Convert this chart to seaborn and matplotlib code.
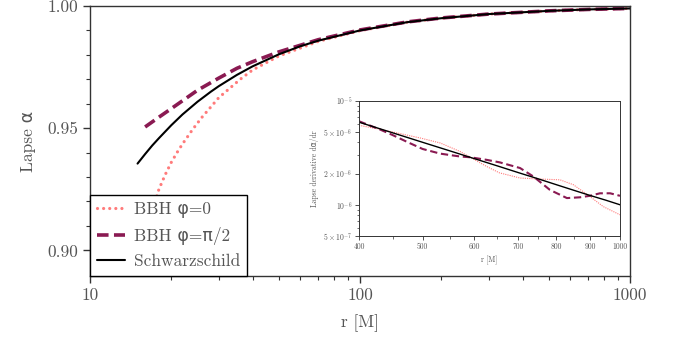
import numpy as np
import pandas as pd
import matplotlib
matplotlib.use("Agg")
import matplotlib.pyplot as plt
import seaborn as sns
from matplotlib.ticker import FixedLocator, NullFormatter, LogLocator

# ---------------- data ----------------
# main panel: lapse alpha vs r
r_schw = [15, 16, 17, 18, 20, 22, 25, 28, 30, 35, 40, 50, 60, 70, 100, 150,
          200, 300, 500, 700, 1000]
a_schw = [0.9355, 0.9394, 0.9429, 0.9459, 0.9512, 0.9556, 0.9608, 0.9649,
          0.9672, 0.9718, 0.9753, 0.9802, 0.9835, 0.9858, 0.9900, 0.9934,
          0.9950, 0.9967, 0.9980, 0.9986, 0.9990]

r_phi0 = [15.5, 16, 17, 18, 19, 20, 21, 22, 24, 26, 30, 36, 40, 50, 70, 100,
          150, 200, 300, 500, 700, 1000]
a_phi0 = [0.893, 0.903, 0.916, 0.925, 0.931, 0.936, 0.940, 0.9435, 0.9495,
          0.9545, 0.9625, 0.9700, 0.9738, 0.9795, 0.9855, 0.9899, 0.9934,
          0.9950, 0.9967, 0.9980, 0.9986, 0.9990]

r_phi90 = [16, 18, 20, 25, 30, 35, 40, 50, 70, 100, 150, 200, 300, 500, 700, 1000]
a_phi90 = [0.9505, 0.9545, 0.9580, 0.9655, 0.9705, 0.9745, 0.9772, 0.9812,
           0.9862, 0.9902, 0.9935, 0.9951, 0.9967, 0.9980, 0.9986, 0.9990]

# inset: d alpha / dr vs r
ri_schw = [400, 450, 500, 550, 600, 650, 700, 750, 800, 850, 900, 950, 1000]
d_schw = [6.25e-6, 4.94e-6, 4.00e-6, 3.31e-6, 2.78e-6, 2.37e-6, 2.04e-6,
          1.78e-6, 1.56e-6, 1.38e-6, 1.23e-6, 1.11e-6, 1.00e-6]

ri_phi0 = [400, 430, 462, 496, 532, 570, 591, 626, 655, 704, 755, 810, 849,
           900, 943, 1000]
d_phi0 = [5.83e-6, 5.35e-6, 4.85e-6, 4.40e-6, 3.94e-6, 3.27e-6, 2.87e-6,
          2.34e-6, 2.03e-6, 1.81e-6, 1.77e-6, 1.74e-6, 1.56e-6, 1.20e-6,
          0.96e-6, 0.80e-6]

ri_phi90 = [400, 431, 450, 475, 500, 532, 570, 591, 626, 656, 704, 738, 782,
            830, 869, 900, 932, 966, 1000]
d_phi90 = [6.38e-6, 5.30e-6, 4.70e-6, 4.00e-6, 3.45e-6, 3.11e-6, 2.92e-6,
           2.87e-6, 2.71e-6, 2.56e-6, 2.26e-6, 1.87e-6, 1.39e-6, 1.16e-6,
           1.18e-6, 1.22e-6, 1.29e-6, 1.29e-6, 1.22e-6]

labels = ["BBH φ=0", "BBH φ=π/2", "Schwarzschild"]
main_xticks = [10, 100, 1000]
main_xticklabels = ["10", "100", "1000"]
main_yticks = [0.90, 0.95, 1.00]
main_yticklabels = ["0.90", "0.95", "1.00"]
inset_xticks = [400, 500, 600, 700, 800, 900, 1000]
inset_xticklabels = ["400", "500", "600", "700", "800", "900", "1000"]
inset_yticks = [5e-7, 1e-6, 2e-6, 5e-6, 1e-5]
inset_yticklabels = [r"$5\times10^{-7}$", r"$10^{-6}$", r"$2\times10^{-6}$",
                     r"$5\times10^{-6}$", r"$10^{-5}$"]

# ---------------- style ----------------
sns.set_theme(style="white")
FAM = ["cmr10", "DejaVu Sans"]
plt.rcParams["font.family"] = FAM
plt.rcParams["mathtext.fontset"] = "cm"
plt.rcParams["axes.unicode_minus"] = False
plt.rcParams["axes.formatter.use_mathtext"] = True
TXT = "#555555"
SP = "#333333"
PINK = "#ff7b7b"
PURP = "#8a1a52"

fig = plt.figure(figsize=(6.77, 3.41), dpi=100)
ax = fig.add_axes([90 / 677, 1 - 276 / 341, 540 / 677, 270 / 341])

df0 = pd.DataFrame({"r": r_phi0, "a": a_phi0})
df90 = pd.DataFrame({"r": r_phi90, "a": a_phi90})
dfs = pd.DataFrame({"r": r_schw, "a": a_schw})

sns.lineplot(data=df0, x="r", y="a", ax=ax, color=PINK, lw=2.3,
             linestyle=(0, (0.01, 1.9)), label=labels[0], sort=True,
             dash_capstyle="round")
sns.lineplot(data=df90, x="r", y="a", ax=ax, color=PURP, lw=2.6,
             linestyle=(0, (3.2, 1.5)), label=labels[1], sort=True)
sns.lineplot(data=dfs, x="r", y="a", ax=ax, color="black", lw=1.5,
             label=labels[2], sort=True)

ax.set_xscale("log")
ax.set_xlim(10, 1000)
ax.set_ylim(0.8895, 1.0)
ax.set_xticks(main_xticks, labels=main_xticklabels)
ax.xaxis.set_minor_locator(LogLocator(base=10, subs=np.arange(2, 10)))
ax.xaxis.set_minor_formatter(NullFormatter())
ax.set_yticks(main_yticks, labels=main_yticklabels)
ax.yaxis.set_minor_locator(FixedLocator(np.arange(0.90, 1.0, 0.01)))
ax.tick_params(which="both", direction="out", colors=SP, labelcolor=TXT,
               labelsize=12.5, left=True, bottom=True)
ax.tick_params(which="major", length=5, width=1)
ax.tick_params(which="minor", length=3, width=0.8)
for s in ax.spines.values():
    s.set_color(SP)
    s.set_linewidth(1.0)
ax.set_xlabel("r [M]", fontsize=12.5, color=TXT, labelpad=8)
ax.set_ylabel("Lapse α", fontsize=12.5, color=TXT, labelpad=8)

leg = ax.legend(loc="lower left", borderaxespad=0, fontsize=12.5,
                frameon=True, fancybox=False, framealpha=1,
                edgecolor="black", handlelength=1.6, labelspacing=0.5,
                borderpad=0.4, handletextpad=0.55)
leg.get_frame().set_linewidth(1.0)
for t in leg.get_texts():
    t.set_color(TXT)

# ---------------- inset ----------------
ins = fig.add_axes([359 / 677, 1 - 236 / 341, 261 / 677, 135 / 341])
di0 = pd.DataFrame({"r": ri_phi0, "d": d_phi0})
di90 = pd.DataFrame({"r": ri_phi90, "d": d_phi90})
dis = pd.DataFrame({"r": ri_schw, "d": d_schw})
sns.lineplot(data=di0, x="r", y="d", ax=ins, color=PINK, lw=0.8,
             linestyle=(0, (1, 1)), legend=False)
sns.lineplot(data=di90, x="r", y="d", ax=ins, color=PURP, lw=1.5,
             linestyle=(0, (3.5, 1.8)), legend=False)
sns.lineplot(data=dis, x="r", y="d", ax=ins, color="black", lw=1.0,
             legend=False)
ins.set_xscale("log")
ins.set_yscale("log")
ins.set_xlim(400, 1000)
ins.set_ylim(5e-7, 1e-5)
ins.xaxis.set_major_locator(FixedLocator(inset_xticks))
ins.set_xticklabels(inset_xticklabels)
ins.xaxis.set_minor_locator(FixedLocator([450, 550, 650, 750, 850, 950]))
ins.xaxis.set_minor_formatter(NullFormatter())
ins.yaxis.set_major_locator(FixedLocator(inset_yticks))
ins.set_yticklabels(inset_yticklabels)
ins.yaxis.set_minor_locator(FixedLocator(
    [6e-7, 7e-7, 8e-7, 9e-7, 3e-6, 4e-6, 6e-6, 7e-6, 8e-6, 9e-6]))
ins.yaxis.set_minor_formatter(NullFormatter())
ins.tick_params(which="both", direction="out", colors=SP, labelcolor=TXT,
                labelsize=5.5, left=True, bottom=True, pad=2)
ins.tick_params(which="major", length=3, width=0.6)
ins.tick_params(which="minor", length=1.8, width=0.5)
for s in ins.spines.values():
    s.set_color(SP)
    s.set_linewidth(0.7)
ins.set_xlabel("r [M]", fontsize=5.5, color=TXT, labelpad=3)
ins.set_ylabel("Lapse derivative dα/dr", fontsize=5.5, color=TXT, labelpad=3)

fig.savefig("out.png", dpi=100)
